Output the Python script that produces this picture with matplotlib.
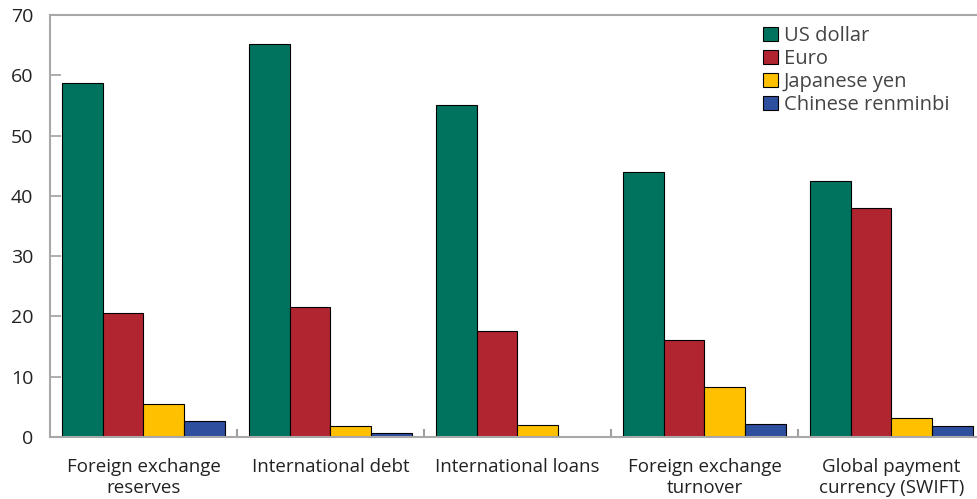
#!/usr/bin/env python3
# Currency shares across international uses, grouped bars

import numpy as np
import matplotlib.pyplot as plt

plt.rcParams["font.family"] = ["Open Sans", "DejaVu Sans"]

categories = ["Foreign exchange\nreserves", "International debt", "International loans",
              "Foreign exchange\nturnover", "Global payment\ncurrency (SWIFT)"]
series = ["US dollar", "Euro", "Japanese yen", "Chinese renminbi"]
usd = [58.7, 65.2, 55.1, 44.0, 42.5]
eur = [20.6, 21.6, 17.6, 16.1, 38.0]
jpy = [5.5, 1.8, 2.0, 8.3, 3.2]
cny = [2.65, 0.66, 0.0, 2.2, 1.8]
colors = ["#00735F", "#B0252F", "#FFC000", "#2E4F9E"]

fig = plt.figure(figsize=(9.78, 4.99), dpi=100)
ax = fig.add_axes([50 / 978, 1 - 437 / 499, 935 / 978, 422 / 499])

x = np.arange(len(categories))
w = 0.218
for i, (name, vals) in enumerate(zip(series, [usd, eur, jpy, cny])):
    ax.bar(x + (i - 1.5) * w, vals, w, color=colors[i], edgecolor="black",
           linewidth=0.8, label=name)

ax.set_xlim(-0.5, 4.5)
ax.set_ylim(0, 70)
ax.set_yticks(range(0, 71, 10))
ax.set_xticks(x)
ax.set_xticklabels(categories, fontsize=13.5, color="#222222", linespacing=1.25)
ax.set_xticks(x[:-1] + 0.5, minor=True)
ax.tick_params(axis="x", which="major", length=0, pad=15)
ax.tick_params(axis="x", which="minor", length=6, direction="in", color="#a0a0a0", width=1.5)
ax.tick_params(axis="y", length=8, direction="in", color="#a0a0a0", width=1.2,
               labelsize=14, labelcolor="#222222", pad=12)

for s in ["left", "bottom", "top"]:
    ax.spines[s].set_color("#a8a8a8")
    ax.spines[s].set_linewidth(1.5)
ax.spines["right"].set_visible(False)

leg = ax.legend(loc="upper left", bbox_to_anchor=(0.743, 1.017), frameon=False,
                fontsize=14.5, handlelength=0.75, handleheight=0.75,
                handletextpad=0.3, labelspacing=0.15, labelcolor="#444444")

fig.savefig("out.png", dpi=100)
